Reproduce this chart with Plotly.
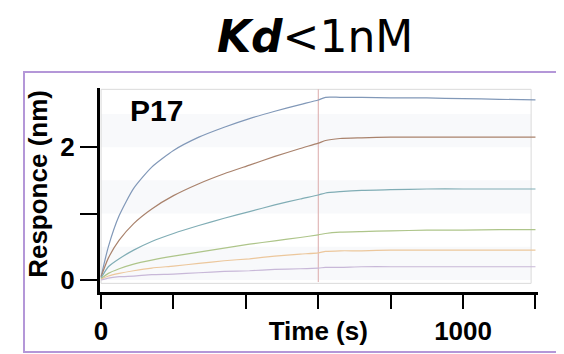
import plotly.graph_objects as go

# ---- data ----
time_s = [0, 20, 50, 90, 140, 200, 270, 340, 410, 480, 550, 600,
          620, 660, 720, 800, 900, 1000, 1100, 1200]
blue = [0.05, 0.50, 0.97, 1.38, 1.70, 1.95, 2.15, 2.30, 2.43, 2.54, 2.64, 2.71,
        2.75, 2.75, 2.75, 2.74, 2.74, 2.73, 2.72, 2.71]
brown = [0.05, 0.33, 0.60, 0.85, 1.07, 1.27, 1.45, 1.60, 1.73, 1.86, 1.98, 2.06,
         2.10, 2.13, 2.14, 2.15, 2.15, 2.15, 2.15, 2.15]
teal = [0.03, 0.20, 0.32, 0.45, 0.58, 0.70, 0.82, 0.93, 1.03, 1.13, 1.22, 1.28,
        1.31, 1.33, 1.35, 1.36, 1.37, 1.37, 1.37, 1.37]
green = [0.02, 0.10, 0.17, 0.24, 0.30, 0.36, 0.42, 0.48, 0.54, 0.59, 0.64, 0.68,
         0.70, 0.72, 0.73, 0.74, 0.75, 0.75, 0.76, 0.76]
orange = [0.01, 0.06, 0.10, 0.14, 0.18, 0.21, 0.25, 0.29, 0.32, 0.36, 0.39, 0.41,
          0.43, 0.44, 0.44, 0.45, 0.45, 0.45, 0.45, 0.45]
purple = [0.00, 0.03, 0.05, 0.06, 0.08, 0.09, 0.11, 0.13, 0.14, 0.16, 0.17, 0.18,
          0.19, 0.19, 0.20, 0.20, 0.20, 0.20, 0.20, 0.20]

series = [blue, brown, teal, green, orange, purple]
colors = ["#8198b8", "#a9826c", "#80adb5", "#aec58a", "#ecc79c", "#c8b8d8"]

x_ticks = [0, 200, 400, 600, 800, 1000, 1200]
x_ticktext = ["0", "", "", "Time (s)", "", "1000", ""]
y_ticks = [0, 1, 2]
y_ticktext = ["0", "", "2"]
switch_time = 600
title_html = "<b><i>Kd</i></b>&lt;1nM"
panel_label = "P17"
y_title = "Responce (nm)"

fig = go.Figure()
for vals, col in zip(series, colors):
    fig.add_trace(go.Scatter(x=time_s, y=vals, mode="lines",
                             line=dict(color=col, width=1.2, shape="spline", smoothing=0.6),
                             showlegend=False, hoverinfo="skip"))

shapes = []
# faint horizontal bands
for lo, hi in [(0.0, 0.5), (1.0, 1.5), (2.0, 2.5)]:
    shapes.append(dict(type="rect", xref="x", yref="y", x0=0, x1=1188, y0=lo, y1=hi,
                       fillcolor="#f8f9fb", line=dict(width=0), layer="below"))
# light gray inner box
shapes.append(dict(type="rect", xref="x", yref="y", x0=0, x1=1188, y0=-0.05, y1=2.87,
                   line=dict(color="#dadada", width=1), layer="below"))
# dissociation start line
shapes.append(dict(type="line", xref="x", yref="y", x0=switch_time, x1=switch_time,
                   y0=-0.03, y1=2.87, line=dict(color="#dba9a9", width=1), layer="below"))
# purple frame
shapes.append(dict(type="rect", xref="paper", yref="paper", x0=-0.1735, x1=1.14,
                   y0=-0.294, y1=1.078, line=dict(color="#b497d8", width=2)))

tick_font = dict(family="Liberation Sans", size=26, color="black", weight="bold")

fig.update_layout(
    width=564, height=354,
    margin=dict(l=92, r=34, t=80, b=70),
    paper_bgcolor="white", plot_bgcolor="white",
    shapes=shapes,
    xaxis=dict(range=[-3, 1207], tickvals=x_ticks, ticktext=x_ticktext,
               ticks="outside", ticklen=14, tickwidth=2, tickcolor="black",
               showline=True, linecolor="black", linewidth=3, showgrid=False,
               zeroline=False, ticklabelstandoff=0, tickfont=tick_font),
    yaxis=dict(range=[-0.18, 2.89], tickvals=y_ticks, ticktext=y_ticktext,
               ticks="outside", ticklen=17, tickwidth=2, tickcolor="black",
               showline=True, linecolor="black", linewidth=3, showgrid=False,
               zeroline=False, tickfont=tick_font),
    annotations=[
        dict(text=title_html, xref="paper", yref="paper", x=0.49, y=1.385,
             xanchor="center", yanchor="top", showarrow=False,
             font=dict(family="DejaVu Sans", size=44, color="black")),
        dict(text="<b>" + panel_label + "</b>", xref="paper", yref="paper", x=0.13, y=0.892,
             xanchor="center", yanchor="middle", showarrow=False,
             font=dict(family="Liberation Sans", size=30, color="black")),
        dict(text="<b>" + y_title + "</b>", xref="paper", yref="paper", x=-0.1416, y=0.53,
             xanchor="center", yanchor="middle", showarrow=False, textangle=-90,
             font=dict(family="Liberation Sans", size=26, color="black")),
    ],
)

fig.write_html("out.html")
